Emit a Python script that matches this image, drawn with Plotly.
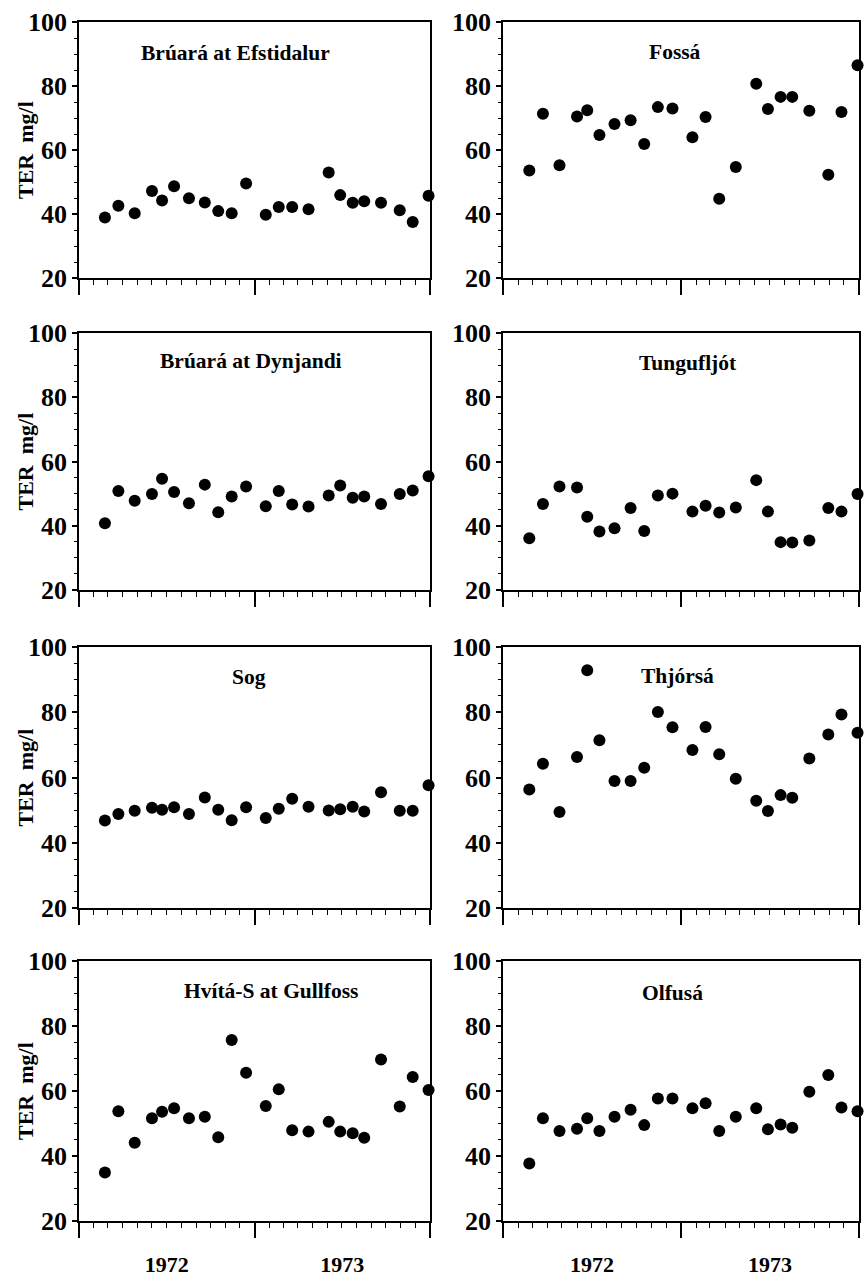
import plotly.graph_objects as go
from plotly.subplots import make_subplots

# ---------------- data ----------------
sample_dates = [
    "1972-02-24", "1972-03-23", "1972-04-26", "1972-06-01", "1972-06-22",
    "1972-07-17", "1972-08-17", "1972-09-19", "1972-10-17", "1972-11-14",
    "1972-12-14", "1973-01-24", "1973-02-20", "1973-03-20", "1973-04-23",
    "1973-06-04", "1973-06-28", "1973-07-24", "1973-08-17", "1973-09-21",
    "1973-10-30", "1973-11-26", "1973-12-29",
]

stations = [
    "Brúará at Efstidalur", "Fossá",
    "Brúará at Dynjandi", "Tungufljót",
    "Sog", "Thjórsá",
    "Hvítá-S at Gullfoss", "Olfusá",
]

ter_bruara_efstidalur = [38.9, 42.6, 40.2, 47.2, 44.2, 48.7, 44.9, 43.6, 40.9, 40.2, 49.5, 39.8,
                         42.2, 42.2, 41.5, 53.0, 45.9, 43.5, 44.0, 43.5, 41.2, 37.5, 45.7]
ter_fossa = [53.6, 71.3, 55.2, 70.5, 72.4, 64.7, 68.1, 69.3, 61.9, 73.4, 73.0, 64.0,
             70.3, 44.8, 54.7, 80.7, 72.8, 76.6, 76.6, 72.3, 52.3, 71.9, 86.5]
ter_bruara_dynjandi = [40.8, 50.8, 47.8, 49.9, 54.6, 50.5, 47.0, 52.8, 44.2, 49.1, 52.2, 46.1,
                       50.8, 46.6, 46.0, 49.4, 52.5, 48.7, 49.1, 46.8, 49.9, 51.0, 55.4]
ter_tungufljot = [36.1, 46.8, 52.2, 51.9, 42.8, 38.2, 39.2, 45.5, 38.4, 49.4, 50.0, 44.4,
                  46.2, 44.1, 45.7, 54.2, 44.4, 34.9, 34.8, 35.4, 45.5, 44.4, 49.9]
ter_sog = [46.8, 48.8, 49.8, 50.7, 50.1, 50.9, 48.8, 53.9, 50.1, 46.9, 50.9, 47.6,
           50.4, 53.5, 51.0, 49.9, 50.3, 51.0, 49.6, 55.5, 49.8, 49.8, 57.6]
ter_thjorsa = [56.3, 64.2, 49.4, 66.3, 92.9, 71.4, 58.9, 58.9, 63.0, 80.1, 75.4, 68.4,
               75.5, 67.1, 59.6, 52.9, 49.7, 54.6, 53.8, 65.8, 73.2, 79.3, 73.7]
ter_hvita_gullfoss = [34.9, 53.8, 44.1, 51.6, 53.6, 54.7, 51.6, 52.1, 45.8, 75.7, 65.6, 55.4,
                      60.5, 47.9, 47.5, 50.5, 47.5, 47.0, 45.6, 69.7, 55.2, 64.3, 60.3]
ter_olfusa = [37.7, 51.6, 47.7, 48.4, 51.6, 47.7, 52.1, 54.2, 49.5, 57.7, 57.7, 54.7,
              56.2, 47.7, 52.1, 54.7, 48.2, 49.7, 48.7, 59.8, 64.9, 54.9, 53.8]

series = [ter_bruara_efstidalur, ter_fossa, ter_bruara_dynjandi, ter_tungufljot,
          ter_sog, ter_thjorsa, ter_hvita_gullfoss, ter_olfusa]

y_ticks = [20, 40, 60, 80, 100]
y_title = "TER  mg/l"

# ---------------- layout helpers ----------------
W, H = 868, 1276
FONT = "Liberation Serif, Times New Roman, serif"
# panel frames in page pixels
col_px = [(79, 430), (503, 859)]
row_px = [(22, 278), (333, 590), (647, 908), (961, 1221)]
title_xfrac = [0.447, 0.483, 0.49, 0.52, 0.485, 0.49, 0.546, 0.475]
title_dy = [31, 30, 28, 30, 30, 29, 30, 32]
ytitle_x_px = 25

fig = make_subplots(rows=4, cols=2)

for i, (name, vals) in enumerate(zip(stations, series)):
    r, c = i // 2, i % 2
    fig.add_trace(
        go.Scatter(
            x=sample_dates, y=vals, mode="markers", name=name,
            marker=dict(size=12, color="black"),
            cliponaxis=False, showlegend=False,
        ),
        row=r + 1, col=c + 1,
    )
    ax = "" if i == 0 else str(i + 1)
    x0, x1 = col_px[c]
    y0, y1 = row_px[r]
    fig.layout["xaxis" + ax].update(
        domain=[x0 / W, x1 / W],
        automargin=False,
        type="date",
        range=["1972-01-01", "1974-01-01"],
        tick0="1972-01-01", dtick="M12", tickformat="%Y",
        ticklabelmode="period",
        ticks="outside", ticklen=15, tickwidth=1.5, tickcolor="black",
        minor=dict(dtick="M1", ticks="outside", ticklen=5, tickwidth=1.2, tickcolor="black"),
        showticklabels=(r == 3),
        tickfont=dict(family=FONT, size=22, color="black", weight="bold"),
        ticklabelstandoff=8,
        showline=True, linecolor="black", linewidth=1.8, mirror=True,
        showgrid=False, zeroline=False,
    )
    fig.layout["yaxis" + ax].update(
        domain=[1 - y1 / H, 1 - y0 / H],
        automargin=False,
        range=[20, 100],
        tickvals=y_ticks,
        ticks="outside", ticklen=5, tickwidth=1.5, tickcolor="black",
        minor=dict(dtick=5, ticks="outside", ticklen=3, tickwidth=1, tickcolor="black"),
        tickfont=dict(family=FONT, size=26, color="black", weight="bold"),
        ticklabelstandoff=0,
        showline=True, linecolor="black", linewidth=1.8, mirror=True,
        showgrid=False, zeroline=False,
    )
    xref = ("x" + ax) + " domain"
    yref = ("y" + ax) + " domain"
    fig.add_annotation(
        text=name, xref=xref, yref=yref,
        x=title_xfrac[i], y=1 - title_dy[i] / (y1 - y0),
        xanchor="center", yanchor="middle", showarrow=False,
        font=dict(family=FONT, size=21.5, color="black", weight="bold"),
    )
    if c == 0:
        fig.add_annotation(
            text=y_title, xref="paper", yref=yref,
            x=ytitle_x_px / W, y=0.5, textangle=-90,
            xanchor="center", yanchor="middle", showarrow=False,
            font=dict(family=FONT, size=22, color="black", weight="bold"),
        )

fig.update_layout(
    width=W, height=H,
    margin=dict(l=0, r=0, t=0, b=0, autoexpand=False),
    paper_bgcolor="white", plot_bgcolor="white",
    showlegend=False,
)

fig.write_html(
    "out.html",
    config={"displayModeBar": False},
    post_script="document.body.style.margin='0';document.body.style.overflow='hidden';",
)
